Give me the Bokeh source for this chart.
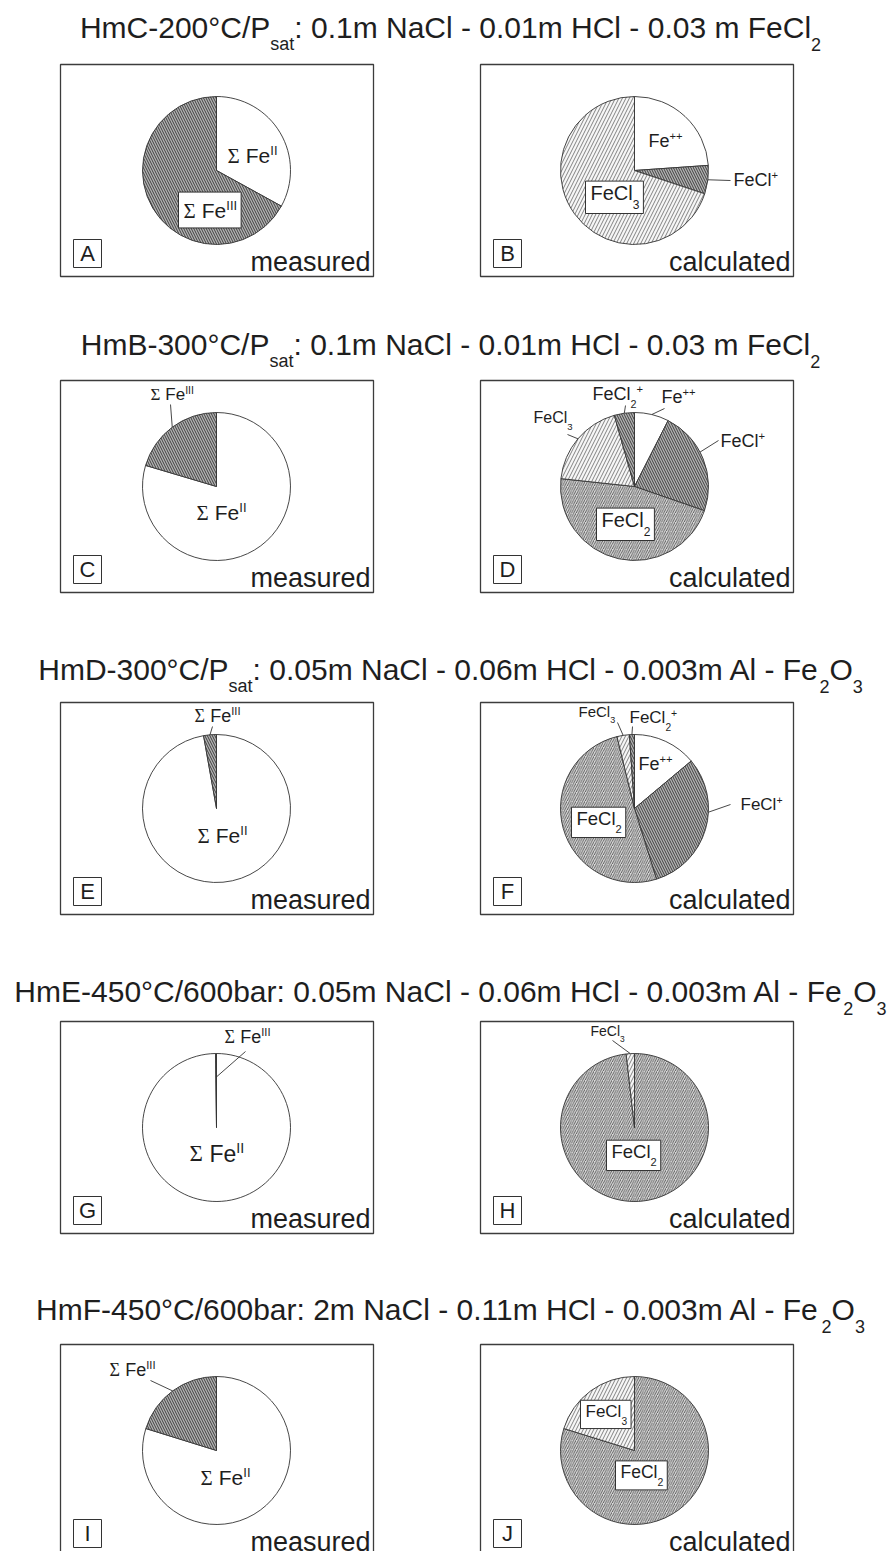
import math
from bokeh.plotting import figure
from bokeh.models import Range1d, ColumnDataSource
from bokeh.embed import file_html
from bokeh.resources import INLINE

# ---------------- data (percent of total Fe) ----------------
MEASURED_SPECIES = ["Fe(II)", "Fe(III)"]
CALC_SPECIES = ["Fe++", "FeCl+", "FeCl2", "FeCl3", "FeCl2+"]

meas_A = [33.0, 67.0]
meas_C = [79.6, 20.4]
meas_E = [97.2, 2.8]
meas_G = [99.8, 0.2]
meas_I = [79.8, 20.2]

calc_B = [23.9, 6.2, 0.0, 69.9, 0.0]
calc_D = [7.5, 22.8, 46.4, 18.9, 4.4]
calc_F = [13.9, 31.3, 51.0, 2.7, 1.1]
calc_H = [0.0, 0.0, 98.2, 1.8, 0.0]
calc_J = [0.0, 0.0, 79.8, 20.2, 0.0]

panel_letters = ["A", "B", "C", "D", "E", "F", "G", "H", "I", "J"]
panel_kinds = ["measured", "calculated"]

title_1 = [("HmC-200°C/P", "n"), ("sat", "sub"), (": 0.1m NaCl - 0.01m HCl - 0.03 m FeCl", "n"), ("2", "sub")]
title_2 = [("HmB-300°C/P", "n"), ("sat", "sub"), (": 0.1m NaCl - 0.01m HCl - 0.03 m FeCl", "n"), ("2", "sub")]
title_3 = [("HmD-300°C/P", "n"), ("sat", "sub"), (": 0.05m NaCl - 0.06m HCl - 0.003m Al - Fe", "n"), ("2", "sub"), ("O", "n"), ("3", "sub")]
title_4 = [("HmE-450°C/600bar: 0.05m NaCl - 0.06m HCl - 0.003m Al - Fe", "n"), ("2", "sub"), ("O", "n"), ("3", "sub")]
title_5 = [("HmF-450°C/600bar: 2m NaCl - 0.11m HCl - 0.003m Al - Fe", "n"), ("2", "sub"), ("O", "n"), ("3", "sub")]

LBL = {
    "Fe(II)": [("Σ", "sig"), (" Fe", "n"), ("II", "sup")],
    "Fe(III)": [("Σ", "sig"), (" Fe", "n"), ("III", "sup")],
    "Fe++": [("Fe", "n"), ("++", "sup")],
    "FeCl+": [("FeCl", "n"), ("+", "sup")],
    "FeCl2": [("FeCl", "n"), ("2", "sub")],
    "FeCl3": [("FeCl", "n"), ("3", "sub")],
    "FeCl2+": [("FeCl", "n"), ("2", "sub"), ("+", "sup")],
}

# ---------------- styles ----------------
DARK = ("#b2b2b2", "\\", "#404040", 5.0, 1.0)
STYLE = {
    "Fe(II)": ("#ffffff", " ", "#ffffff", 6, 0.5),
    "Fe(III)": DARK,
    "Fe++": ("#ffffff", " ", "#ffffff", 6, 0.5),
    "FeCl+": DARK,
    "FeCl2": ("#dadada", "/", "#505050", 4.5, 0.9),
    "FeCl3": ("#f6f6f6", "/", "#646464", 7.0, 0.8),
    "FeCl2+": DARK,
}

W_FIG, H_FIG = 891, 1551
SANS = "Liberation Sans"
SERIF = "Liberation Serif"
TXT = "#1e1e1e"
R = 74
ROW_TOP = [64, 380, 702, 1021, 1344]
TITLE_BASE = [38, 355, 680, 1002, 1320]
COL_LEFT = [60, 480]
BOX_W, BOX_H = 313, 212
PIE_CX = [216, 634]
TITLE_FS = 30
BASE_FIX = 0.38   # renderer places alphabetic baseline lower by this fraction of the font size

WID = {' ': 278, '-': 333, '.': 278, ':': 278, '/': 278, '°': 400, '+': 584,
       'A': 667, 'B': 667, 'C': 722, 'D': 722, 'E': 667, 'F': 611, 'G': 778, 'H': 722,
       'I': 278, 'J': 500, 'N': 722, 'O': 778, 'P': 667,
       'a': 556, 'b': 556, 'c': 500, 'd': 556, 'e': 556, 'l': 222, 'm': 833, 'r': 333,
       's': 500, 't': 278, 'u': 556, 'Σ': 592}


def X(px):
    return px


def Y(py):
    return H_FIG - py


def tw(s, fs):
    return sum(WID.get(c, 556) for c in s) / 1000.0 * fs


T = dict(x=[], y=[], text=[], size=[], font=[])


def rich(segs, x, base, fs, align="left"):
    parts = []
    cur = 0.0
    for t, k in segs:
        if k == "sub":
            size, dy, font = 0.6 * fs, 0.42 * fs, SANS
        elif k == "sup":
            size, dy, font = 0.62 * fs, -0.4 * fs, SANS
        elif k == "sig":
            size, dy, font = fs, 0.0, SERIF
        else:
            size, dy, font = fs, 0.0, SANS
        stripped = t.lstrip(" ")
        cur += tw(t[:len(t) - len(stripped)], size)
        parts.append((cur, base + dy - BASE_FIX * size, stripped, size, font))
        cur += tw(stripped, size)
    if align == "center":
        left = x - cur / 2
    elif align == "right":
        left = x - cur
    else:
        left = x
    for off, yy, t, size, font in parts:
        T["x"].append(X(left + off))
        T["y"].append(Y(yy))
        T["text"].append(t)
        T["size"].append("%.1fpx" % size)
        T["font"].append(font)
    return left, left + cur


# label specs: (species, dx, dy, fs, boxed, leader) ; leader = (ldx, ldy, pos, radius_factor)
panels = [
    (0, 0, MEASURED_SPECIES, meas_A, [
        ("Fe(II)", 11, -7, 21, False, None),
        ("Fe(III)", -33, 48, 21, True, None)]),
    (0, 1, CALC_SPECIES, calc_B, [
        ("Fe++", 14, -23, 18, False, None),
        ("FeCl+", 99, 16, 18, False, (96, 10, 0.5, 1.0)),
        ("FeCl3", -44, 30, 20, True, None)]),
    (1, 0, MEASURED_SPECIES, meas_C, [
        ("Fe(III)", -66, -86, 17, False, (-46, -82, 0.5, 1.0)),
        ("Fe(II)", -20, 34, 21, False, None)]),
    (1, 1, CALC_SPECIES, calc_D, [
        ("FeCl3", -101, -63, 16, False, (-67, -52, 0.5, 1.0)),
        ("FeCl2+", -42, -86, 18, False, (-9, -81, 0.5, 1.0)),
        ("Fe++", 27, -83, 18, False, (30, -78, 0.5, 1.0)),
        ("FeCl+", 86, -39, 18, False, (84, -46, 0.43, 1.0)),
        ("FeCl2", -33, 41, 20, True, None)]),
    (2, 0, MEASURED_SPECIES, meas_E, [
        ("Fe(III)", -22, -86, 18, False, (-4, -82, 0.5, 1.0)),
        ("Fe(II)", -19, 35, 21, False, None)]),
    (2, 1, CALC_SPECIES, calc_F, [
        ("FeCl3", -56, -91, 15, False, (-17, -86, 0.5, 1.0)),
        ("FeCl2+", -5, -85, 17, False, (-2, -82, 0.5, 1.0)),
        ("Fe++", 4, -38, 18, False, None),
        ("FeCl+", 106, 2, 17, False, (96, -4, 0.38, 1.0)),
        ("FeCl2", -58, 17, 18.5, True, None)]),
    (3, 0, MEASURED_SPECIES, meas_G, [
        ("Fe(III)", 8, -84, 18, False, (29, -76, 0.5, 0.68)),
        ("Fe(II)", -27, 35, 23, False, None)]),
    (3, 1, CALC_SPECIES, calc_H, [
        ("FeCl3", -44, -91, 14, False, (-22, -87, 0.5, 1.0)),
        ("FeCl2", -23, 31, 18.5, True, None)]),
    (4, 0, MEASURED_SPECIES, meas_I, [
        ("Fe(III)", -107, -74, 18, False, (-66, -70, 0.5, 1.0)),
        ("Fe(II)", -16, 35, 21, False, None)]),
    (4, 1, CALC_SPECIES, calc_J, [
        ("FeCl3", -49, -33, 17, True, None),
        ("FeCl2", -14, 28, 17.5, True, None)]),
]

p = figure(width=W_FIG, height=H_FIG, x_range=Range1d(0, W_FIG), y_range=Range1d(0, H_FIG),
           output_backend="svg", toolbar_location=None, min_border=0)
p.axis.visible = False
p.grid.visible = False
p.outline_line_color = None
p.background_fill_color = "white"
p.border_fill_color = "white"

# titles
titles = [title_1, title_2, title_3, title_4, title_5]
for i, segs in enumerate(titles):
    rich(segs, 450, TITLE_BASE[i], TITLE_FS, align="center")

frame = dict(left=[], right=[], top=[], bottom=[])
lbox = dict(left=[], right=[], top=[], bottom=[])
wed = dict(x=[], y=[], start=[], end=[], fill=[], hatch=[], hcolor=[], hscale=[], hweight=[])
lead = dict(x0=[], y0=[], x1=[], y1=[])

for idx, (row, col, species, vals, labels) in enumerate(panels):
    bx, by = COL_LEFT[col], ROW_TOP[row]
    frame["left"].append(X(bx)); frame["right"].append(X(bx + BOX_W))
    frame["top"].append(Y(by)); frame["bottom"].append(Y(by + BOX_H))
    cx, cy = PIE_CX[col], by + 106
    total = float(sum(vals))
    cum = 0.0
    spans = {}
    for sp, v in zip(species, vals):
        f0 = cum / total
        cum += v
        f1 = cum / total
        spans[sp] = (f0, f1)
        if v <= 0:
            continue
        fc, hp, hc, hs, hw = STYLE[sp]
        wed["x"].append(X(cx)); wed["y"].append(Y(cy))
        wed["start"].append(math.radians(90 - 360 * f1))
        wed["end"].append(math.radians(90 - 360 * f0))
        wed["fill"].append(fc); wed["hatch"].append(hp); wed["hcolor"].append(hc)
        wed["hscale"].append(hs); wed["hweight"].append(hw)

    for sp, dx, dy, fs, boxed, leader in labels:
        segs = LBL[sp]
        l, r = rich(segs, cx + dx, cy + dy, fs)
        if boxed:
            has_sup = any(k == "sup" for _, k in segs)
            has_sub = any(k == "sub" for _, k in segs)
            top = cy + dy - 0.72 * fs - 5 - (0.3 * fs if has_sup else 0)
            bot = cy + dy + (0.65 * fs if has_sub else 0.45 * fs)
            lbox["left"].append(X(l - 5)); lbox["right"].append(X(r + 4))
            lbox["top"].append(Y(top)); lbox["bottom"].append(Y(bot))
        if leader is not None:
            ldx, ldy, pos, rf = leader
            f0, f1 = spans[sp]
            th = math.radians(360 * (f0 + pos * (f1 - f0)))
            ex, ey = cx + rf * R * math.sin(th), cy - rf * R * math.cos(th)
            lead["x0"].append(X(cx + ldx)); lead["y0"].append(Y(cy + ldy))
            lead["x1"].append(X(ex)); lead["y1"].append(Y(ey))

    # panel letter box
    lx, ly = bx + 13, by + 175
    lbox["left"].append(X(lx)); lbox["right"].append(X(lx + 28))
    lbox["top"].append(Y(ly)); lbox["bottom"].append(Y(ly + 28))
    rich([(panel_letters[idx], "n")], lx + 14, ly + 22, 22, align="center")
    rich([(panel_kinds[col], "n")], bx + BOX_W - 3, by + 208, 27, align="right")

p.quad(left="left", right="right", top="top", bottom="bottom", source=ColumnDataSource(frame),
       fill_color=None, line_color="#3c3c3c", line_width=1.3)
p.wedge(x="x", y="y", radius=R, start_angle="start", end_angle="end", direction="anticlock",
        fill_color="fill", hatch_pattern="hatch", hatch_color="hcolor", hatch_scale="hscale",
        hatch_weight="hweight", line_color="#333333", line_width=0.9, source=ColumnDataSource(wed))
p.segment(x0="x0", y0="y0", x1="x1", y1="y1", source=ColumnDataSource(lead),
          line_color="#333333", line_width=0.9)
p.quad(left="left", right="right", top="top", bottom="bottom", source=ColumnDataSource(lbox),
       fill_color="white", line_color="#333333", line_width=1.0)
p.text(x="x", y="y", text="text", text_font_size="size", text_font="font",
       source=ColumnDataSource(T), text_baseline="alphabetic", text_align="left", text_color=TXT)

open("out.html", "w").write(file_html(p, INLINE))
